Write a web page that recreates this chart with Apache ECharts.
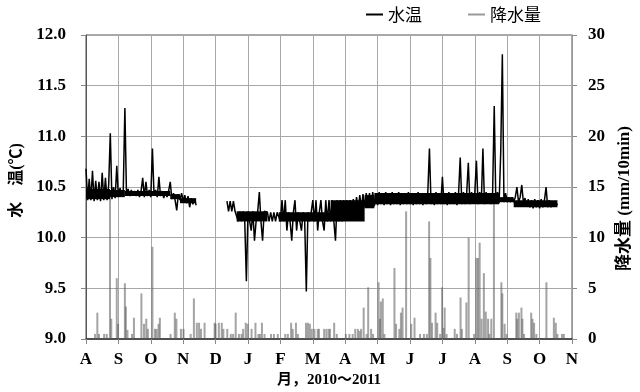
<!DOCTYPE html>
<html><head><meta charset="utf-8">
<script src="https://cdn.jsdelivr.net/npm/echarts@6/dist/echarts.min.js"></script>
<style>html,body{margin:0;padding:0;background:#fff}#c{width:640px;height:392px}</style>
</head><body><div id="c"></div>
<script>
// x-axis month tick labels (Aug 2010 .. Nov 2011)
const monthLabels = ['A','S','O','N','D','J','F','M','A','M','J','J','A','S','O','N'];

// water temperature readings: regular series starting at month position tempStart, every tempStep months
const tempStart = 0;
const tempStep = 0.05;
const tempValues = [
 10.68,10.37,10.58,10.37,10.66,10.36,10.56,10.37,10.55,10.36,
 10.64,10.37,10.59,10.37,10.52,11.03,10.38,10.50,10.39,10.71,
 10.40,10.49,10.41,10.47,11.28,10.42,10.48,10.41,10.47,10.42,
 10.46,10.41,10.47,10.40,10.46,10.59,10.40,10.55,10.41,10.47,
 10.40,10.88,10.42,10.47,10.40,10.60,10.41,10.46,10.39,10.45,
 10.40,10.46,10.55,10.38,10.44,10.37,10.27,10.43,10.37,10.44,
 10.36,10.42,10.34,10.41,10.30,10.39,10.33,10.38,10.32,
 null,null,null,null,null,null,null,null,null,null,null,null,null,null,null,null,null,null,
 10.36,10.26,10.36,10.26,10.36,10.26,10.26,10.16,10.26,10.16,
 10.26,10.16,9.57,10.26,10.16,10.07,10.26,9.97,10.16,10.26,
 10.45,10.16,9.97,10.26,10.25,10.25,10.16,10.25,10.16,10.25,
 10.16,10.25,10.25,10.16,10.37,10.16,10.37,10.07,10.25,10.16,
 9.97,10.25,10.37,10.07,10.25,10.16,10.07,10.25,10.16,9.47,
 10.25,10.16,10.25,10.37,10.16,10.37,10.07,10.25,10.37,10.16,
 10.07,10.37,10.16,10.37,10.16,10.37,10.16,9.97,10.37,10.16,
 10.37,10.16,10.37,10.26,10.37,10.26,10.37,10.26,10.38,10.27,
 10.40,10.28,10.42,10.29,10.43,10.30,10.44,10.31,10.44,10.32,
 10.45,10.31,10.44,10.32,10.45,10.33,10.44,10.32,10.45,10.33,
 10.44,10.32,10.45,10.33,10.44,10.33,10.45,10.32,10.44,10.33,
 10.44,10.33,10.45,10.33,10.44,10.32,10.44,10.33,10.45,10.33,
 10.44,10.32,10.44,10.33,10.45,10.88,10.33,10.44,10.32,10.45,
 10.33,10.44,10.33,10.60,10.33,10.44,10.32,10.45,10.33,10.44,
 10.33,10.45,10.32,10.44,10.79,10.33,10.45,10.33,10.44,10.74,
 10.33,10.45,10.34,10.44,10.76,10.33,10.45,10.34,10.88,10.33,
 10.45,10.34,10.44,10.33,10.45,11.30,10.34,10.45,10.34,10.84,
 11.81,10.35,10.44,10.35,10.40,10.35,10.40,10.35,10.40,10.50,
 10.35,10.40,10.52,10.35,10.39,10.31,10.38,10.30,10.37,10.29,
 10.38,10.30,10.37,10.29,10.38,10.30,10.37,10.50,10.30,10.37,
 10.30,10.36,10.31,10.35,10.32
];

// dense 10-min fluctuation band of the temperature record (start/end month, low/high degC)
const bandStart = [0.00, 0.74, 1.20, 2.60, 2.90, 4.65, 5.95, 7.55, 8.60, 8.90, 12.75, 13.20];
const bandEnd   = [0.74, 1.20, 2.60, 2.90, 3.40, 5.60, 7.55, 8.60, 8.90, 12.75, 13.20, 14.55];
const bandLow   = [10.38, 10.40, 10.41, 10.38, 10.34, 10.16, 10.16, 10.16, 10.29, 10.33, 10.35, 10.30];
const bandHigh  = [10.48, 10.47, 10.46, 10.43, 10.39, 10.26, 10.25, 10.37, 10.42, 10.44, 10.40, 10.37];

// precipitation events: month position and mm/10min
const rainX = [
 0.28,0.35,0.40,0.56,0.64,0.74,0.78,0.95,0.99,1.20,
 1.23,1.28,1.42,1.48,1.71,1.79,1.86,1.91,2.05,2.13,
 2.18,2.24,2.28,2.61,2.74,2.79,2.93,3.01,3.23,3.33,
 3.42,3.49,3.55,3.66,3.97,4.00,4.10,4.19,4.24,4.36,
 4.47,4.54,4.62,4.72,4.80,4.85,4.93,4.99,5.11,5.23,
 5.32,5.37,5.43,5.51,5.71,5.80,5.92,6.15,6.23,6.33,
 6.38,6.48,6.54,6.79,6.85,6.91,6.97,7.05,7.15,7.19,
 7.35,7.42,7.49,7.53,7.66,7.74,8.02,8.13,8.23,8.31,
 8.39,8.44,8.49,8.57,8.66,8.71,8.80,8.86,9.03,9.07,
 9.10,9.16,9.21,9.52,9.57,9.67,9.72,9.77,9.88,10.04,
 10.14,10.31,10.43,10.52,10.59,10.63,10.68,10.79,10.84,10.93,
 10.99,11.04,11.07,11.13,11.38,11.45,11.56,11.60,11.74,11.81,
 11.98,12.05,12.10,12.15,12.21,12.28,12.34,12.41,12.45,12.51,
 12.59,12.82,12.85,12.92,12.98,13.28,13.31,13.36,13.44,13.47,
 13.52,13.74,13.78,13.83,13.90,14.21,14.44,14.50,14.55,14.69,
 14.75
];
const rainMM = [
 0.5,2.6,0.5,0.5,0.5,14.2,2.0,6.0,1.5,5.5,
 3.2,0.9,0.5,2.1,4.5,1.5,2.0,1.0,9.1,1.0,
 1.0,1.5,2.1,0.5,2.6,2.0,1.0,1.0,0.5,4.0,
 1.6,1.6,1.0,1.6,1.6,1.5,1.6,1.6,1.0,1.0,
 0.5,0.5,2.6,0.5,0.5,1.0,1.6,1.5,1.0,1.6,
 0.5,0.5,1.6,0.5,0.5,0.5,0.5,0.5,0.5,1.6,
 1.0,1.6,0.5,1.6,1.6,1.5,1.0,1.0,1.0,1.0,
 1.0,1.0,1.0,1.0,1.6,0.5,0.5,0.5,0.5,1.0,
 1.0,0.8,1.0,3.1,0.5,5.1,1.0,0.5,5.6,2.0,
 3.7,4.0,0.5,7.0,1.5,1.0,2.6,3.1,12.6,1.5,
 2.1,0.5,0.5,0.5,11.6,8.0,1.6,2.6,1.6,0.5,
 5.1,1.1,3.1,0.5,1.0,0.5,4.1,1.0,3.6,10.0,
 0.5,8.0,8.0,9.5,2.0,6.5,2.7,2.0,0.5,2.0,
 14.0,5.6,4.5,1.5,0.5,2.6,2.0,2.6,3.1,2.0,
 0.5,2.6,2.0,1.6,0.5,5.6,2.1,1.6,0.5,0.5,
 0.5
];

const tempData = tempValues.map((v, i) => [tempStart + i * tempStep, v === null ? '-' : v]);
const rainData = rainX.map((x, i) => [x, rainMM[i]]);
const bandData = bandStart.map((s, i) => [s, bandEnd[i], bandLow[i], bandHigh[i]]);

const serifB = "'Liberation Serif','Times New Roman','Noto Sans CJK JP',serif";
const chart = echarts.init(document.getElementById('c'), null, {renderer: 'canvas'});
chart.setOption({
  animation: false,
  backgroundColor: '#fff',
  grid: {left: 86, right: 68, top: 35, bottom: 53, show: true, borderColor: '#555', borderWidth: 1, containLabel: false, outerBoundsMode: 'none'},
  legend: {
    left: 366, top: 6, padding: 0, itemWidth: 17, itemHeight: 2, itemGap: 46,
    textStyle: {fontSize: 17, fontFamily: "'Noto Sans CJK JP',sans-serif", color: '#000'},
    data: [
      {name: '水温', icon: 'rect', itemStyle: {color: '#000'}},
      {name: '降水量', icon: 'rect', itemStyle: {color: '#999'}}
    ]
  },
  xAxis: {
    type: 'value', min: 0, max: 15, interval: 1,
    axisLine: {show: true, lineStyle: {color: '#333', width: 1.5}},
    axisTick: {show: true, length: 5, lineStyle: {color: '#888'}},
    splitLine: {show: true, lineStyle: {color: '#a8a8a8', width: 1}},
    axisLabel: {formatter: v => monthLabels[Math.round(v)], fontFamily: serifB, fontWeight: 'bold', fontSize: 17, color: '#000', margin: 12},
    name: '月，2010〜2011', nameLocation: 'middle', nameGap: 34,
    nameTextStyle: {fontFamily: serifB, fontWeight: 'bold', fontSize: 15, color: '#000'}
  },
  yAxis: [
    {
      type: 'value', min: 9, max: 12, interval: 0.5, position: 'left',
      axisLine: {show: true, lineStyle: {color: '#555', width: 1}},
      axisTick: {show: true, length: 5, lineStyle: {color: '#888'}},
      splitLine: {show: true, lineStyle: {color: '#a8a8a8', width: 1}},
      axisLabel: {formatter: v => v.toFixed(1), fontFamily: serifB, fontWeight: 'bold', fontSize: 17, color: '#000', margin: 20},
      name: '水　温(℃)', nameLocation: 'middle', nameRotate: 90, nameGap: 58,
      nameTextStyle: {fontFamily: serifB, fontWeight: 'bold', fontSize: 16, color: '#000', padding: [0, 0, 0, 13]}
    },
    {
      type: 'value', min: 0, max: 30, interval: 5, position: 'right',
      axisLine: {show: true, lineStyle: {color: '#999', width: 1}},
      axisTick: {show: true, length: 5, lineStyle: {color: '#888'}},
      splitLine: {show: false},
      axisLabel: {fontFamily: serifB, fontWeight: 'bold', fontSize: 17, color: '#000', margin: 16},
      name: '降水量 (mm/10min)', nameLocation: 'middle', nameRotate: 90, nameGap: 41,
      nameTextStyle: {fontFamily: serifB, fontWeight: 'bold', fontSize: 17, color: '#000', padding: [0, 23, 0, 0]}
    }
  ],
  series: [
    {
      name: '降水量', type: 'bar', yAxisIndex: 1, data: rainData, barWidth: 2,
      itemStyle: {color: 'rgba(90,90,90,0.55)'}, z: 2
    },
    {
      name: '水温帯', type: 'custom', yAxisIndex: 0, data: bandData, z: 3, silent: true,
      encode: {x: [0, 1], y: [2, 3]},
      renderItem: (params, api) => {
        const p0 = api.coord([api.value(0), api.value(3)]);
        const p1 = api.coord([api.value(1), api.value(2)]);
        return {type: 'rect', shape: {x: p0[0], y: p0[1], width: p1[0] - p0[0], height: p1[1] - p0[1]}, style: {fill: '#000'}};
      }
    },
    {
      name: '水温', type: 'line', yAxisIndex: 0, data: tempData, showSymbol: false,
      connectNulls: false, lineStyle: {color: '#000', width: 1.5, join: 'bevel'}, itemStyle: {color: '#000'}, z: 4
    }
  ]
});
</script></body></html>
